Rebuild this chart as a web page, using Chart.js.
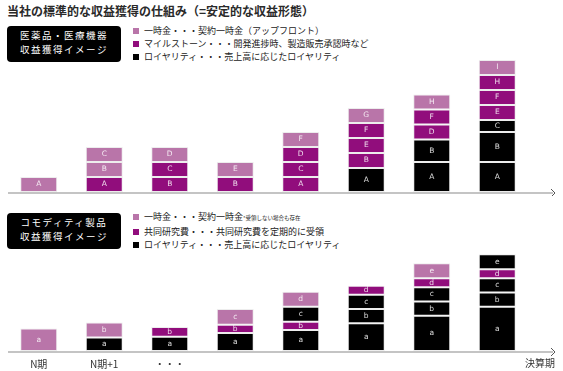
<!DOCTYPE html>
<html lang="ja">
<head>
<meta charset="utf-8">
<script src="https://cdn.jsdelivr.net/npm/chart.js@4"></script>
<style>
  body { margin: 0; background: #fff; font-family: "Noto Sans CJK JP", sans-serif; }
  #page { position: relative; width: 563px; height: 371px; overflow: hidden; }
  .abs { position: absolute; }
  .title { left: 7px; top: 2px; font-size: 12px; font-weight: bold; color: #2a2a2a; white-space: nowrap; }
  .box { background: #000; color: #fff; border-radius: 4px; width: 114px; text-align: center;
         font-size: 9.5px; letter-spacing: 1.5px; line-height: 13.5px; padding-top: 3px; box-sizing: border-box; }
  .legend { font-size: 9px; color: #222; line-height: 13px; white-space: nowrap; }
  .legend span.sq { display: inline-block; width: 6px; height: 6px; margin-right: 5px; vertical-align: 0px; }
  .small { font-size: 5.5px; }
  canvas { position: absolute; left: 0; }
</style>
</head>
<body>
<div id="page">
  <div class="abs title">当社の標準的な収益獲得の仕組み（=安定的な収益形態）</div>

  <div class="abs box" style="left:7px; top:26px; height:36px;">医薬品・医療機器<br>収益獲得イメージ</div>
  <div class="abs legend" style="left:133px; top:24px;">
    <div><span class="sq" style="background:#b975a9"></span>一時金・・・契約一時金（アップフロント）</div>
    <div><span class="sq" style="background:#910d7c"></span>マイルストーン・・・開発進捗時、製造販売承認時など</div>
    <div><span class="sq" style="background:#000"></span>ロイヤリティ・・・売上高に応じたロイヤリティ</div>
  </div>

  <div class="abs box" style="left:7px; top:213px; height:36px;">コモディティ製品<br>収益獲得イメージ</div>
  <div class="abs legend" style="left:133px; top:210px;">
    <div><span class="sq" style="background:#b975a9"></span>一時金・・・契約一時金<span class="small">*受領しない場合も存在</span></div>
    <div><span class="sq" style="background:#910d7c"></span>共同研究費・・・共同研究費を定期的に受領</div>
    <div><span class="sq" style="background:#000"></span>ロイヤリティ・・・売上高に応じたロイヤリティ</div>
  </div>

  <canvas id="chartTop" width="563" height="140" style="top:56px;"></canvas>
  <canvas id="chartBottom" width="563" height="125" style="top:246px;"></canvas>

  <div class="abs" style="left:525px; top:355px; font-size:10px; color:#333;">決算期</div>
</div>

<script>
// 期（横軸）
const periods = ['N期', 'N期+1', '・・・', '', '', '', '', ''];

// 色: U=一時金, M=マイルストーン/共同研究費, R=ロイヤリティ
const typeColors = { U: '#b975a9', M: '#910d7c', R: '#000000' };

// 医薬品・医療機器（下から上へ）
const pharmaLabels = [
  ['A'], ['A', 'B', 'C'], ['B', 'C', 'D'], ['B', 'E'], ['A', 'C', 'D', 'F'],
  ['A', 'B', 'E', 'F', 'G'], ['A', 'B', 'D', 'F', 'H'], ['A', 'B', 'C', 'E', 'F', 'H', 'I']
];
const pharmaTypes = [
  ['U'], ['M', 'U', 'U'], ['M', 'M', 'U'], ['M', 'U'], ['M', 'M', 'M', 'U'],
  ['R', 'M', 'M', 'M', 'U'], ['R', 'R', 'M', 'M', 'U'], ['R', 'R', 'R', 'M', 'M', 'M', 'U']
];
const pharmaValues = [
  [1], [1, 1, 1], [1, 1, 1], [1, 1], [1, 1, 1, 1],
  [1.6, 1, 1, 1, 1], [2, 1.5, 1, 1, 1], [2, 2, 0.8, 1, 1, 1, 1]
];

// コモディティ製品（下から上へ）
const commodityLabels = [
  ['a'], ['a', 'b'], ['a', 'b'], ['a', 'b', 'c'], ['a', 'b', 'c', 'd'],
  ['a', 'b', 'c', 'd'], ['a', 'b', 'c', 'd', 'e'], ['a', 'b', 'c', 'd', 'e']
];
const commodityTypes = [
  ['U'], ['R', 'U'], ['R', 'M'], ['R', 'M', 'U'], ['R', 'M', 'R', 'U'],
  ['R', 'R', 'R', 'M'], ['R', 'R', 'R', 'M', 'U'], ['R', 'R', 'R', 'M', 'R']
];
const commodityValues = [
  [1.5], [0.9, 1], [0.95, 0.65], [1.2, 0.55, 1.05], [1.4, 0.55, 1, 1],
  [1.85, 0.95, 0.95, 0.6], [2.35, 0.95, 0.95, 0.6, 1], [2.95, 0.95, 0.95, 0.6, 1]
];

Chart.defaults.font.family = '"Noto Sans CJK JP", sans-serif';

// 積み上げの段ごとにデータセットを作る
function buildDatasets(values, types, labels) {
  let layers = Math.max(...values.map(v => v.length));
  let sets = [];
  for (let k = 0; k < layers; k++) {
    sets.push({
      data: values.map(v => v[k] === undefined ? null : v[k]),
      backgroundColor: types.map(t => typeColors[t[k]] || '#fff'),
      segLabels: labels.map(l => l[k] || ''),
      borderColor: 'rgba(235,235,235,0.9)',
      borderWidth: 1,
      borderSkipped: false,
      barPercentage: 0.565,
      categoryPercentage: 1
    });
  }
  return sets;
}

// 基線と矢印
const baselinePlugin = {
  id: 'baseline',
  beforeDatasetsDraw(chart) {
    let ctx = chart.ctx;
    let y = chart.chartArea.bottom + 1;
    ctx.save();
    ctx.strokeStyle = '#c4c4c4';
    ctx.lineWidth = 2;
    ctx.beginPath();
    ctx.moveTo(8, y);
    ctx.lineTo(553, y);
    ctx.stroke();
    ctx.strokeStyle = '#555';
    ctx.lineWidth = 1;
    ctx.beginPath();
    ctx.moveTo(551, y - 4);
    ctx.lineTo(555, y);
    ctx.lineTo(551, y + 4);
    ctx.stroke();
    ctx.restore();
  }
};

// 各セグメントの記号
const segLabelPlugin = {
  id: 'segLabels',
  afterDatasetsDraw(chart) {
    let ctx = chart.ctx;
    ctx.save();
    ctx.font = '7.5px "DejaVu Sans", sans-serif';
    ctx.textAlign = 'center';
    ctx.textBaseline = 'middle';
    ctx.fillStyle = 'rgba(255,255,255,0.85)';
    chart.data.datasets.forEach((ds, d) => {
      let meta = chart.getDatasetMeta(d);
      meta.data.forEach((bar, i) => {
        if (ds.data[i] === null || !ds.segLabels[i]) return;
        ctx.fillText(ds.segLabels[i], bar.x, (bar.y + bar.base) / 2);
      });
    });
    ctx.restore();
  }
};

function makeChart(id, values, types, labels, yMax, showTicks, padding) {
  let xScale = {
    stacked: true,
    display: showTicks,
    grid: { display: false, drawTicks: false },
    border: { display: false },
    ticks: { color: '#333', font: { size: 10 }, padding: 7, maxRotation: 0, autoSkip: false }
  };
  if (showTicks) {
    xScale.afterFit = function(scale) { scale.height = 20; };
  }
  return new Chart(document.getElementById(id).getContext('2d'), {
    type: 'bar',
    data: { labels: periods, datasets: buildDatasets(values, types, labels) },
    options: {
      responsive: false,
      animation: false,
      layout: { padding: padding },
      plugins: { legend: { display: false }, tooltip: { enabled: false } },
      scales: {
        x: xScale,
        y: { stacked: true, display: false, min: 0, max: yMax }
      }
    },
    plugins: [baselinePlugin, segLabelPlugin]
  });
}

makeChart('chartTop', pharmaValues, pharmaTypes, pharmaLabels, 9, false,
  { top: 1, bottom: 4, left: 6, right: 33 });
makeChart('chartBottom', commodityValues, commodityTypes, commodityLabels, 7, true,
  { top: 0, bottom: 0, left: 6, right: 33 });
</script>
</body>
</html>
